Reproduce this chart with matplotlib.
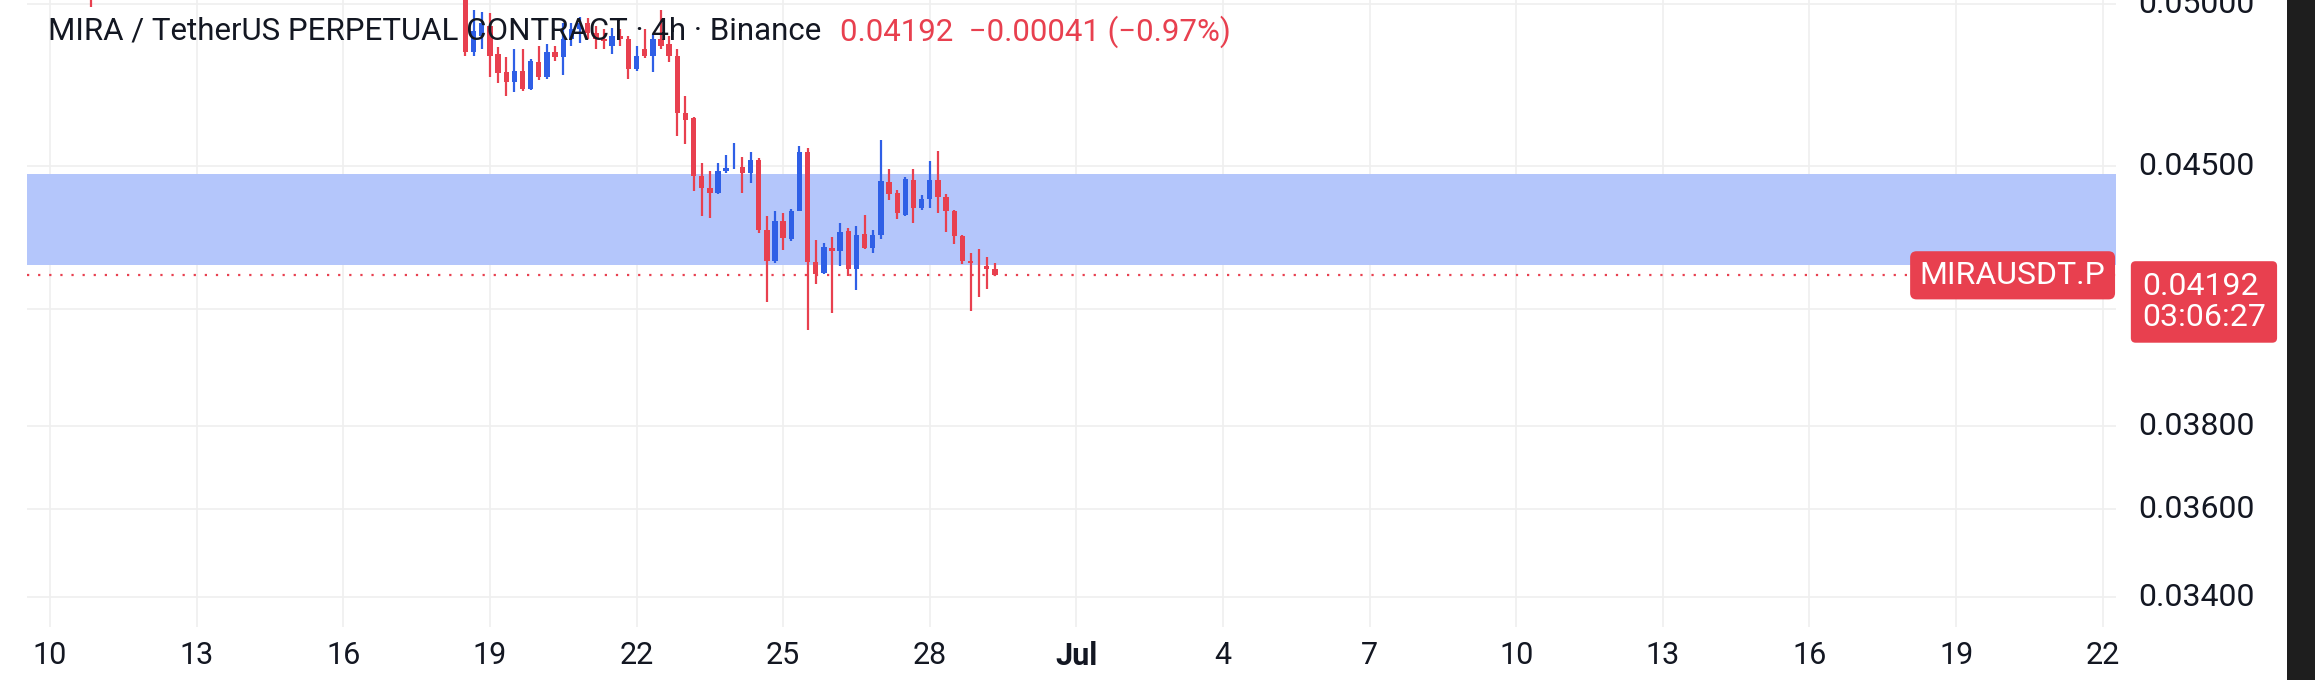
import matplotlib
matplotlib.use("Agg")
import matplotlib.pyplot as plt
from matplotlib.ticker import NullLocator

plt.rcParams['font.family'] = ['Roboto', 'DejaVu Sans']

# time in June days (July d = 30 + d), 4h candles
start_day = 18.5
opens = [0.05024,0.04846,0.04898,0.04930,0.04841,0.04784,0.04754,0.04787,0.04732,0.04817,0.04769,0.04846,0.04830,0.04888,0.04919,0.04940,0.04909,0.04888,0.04867,0.04898,0.04888,0.04794,0.04856,0.04836,0.04888,0.04872,0.04836,0.04658,0.04645,0.04471,0.04438,0.04423,0.04485,0.04500,0.04499,0.04480,0.04518,0.04318,0.04232,0.04342,0.04293,0.04372,0.04543,0.04229,0.04198,0.04268,0.04259,0.04314,0.04209,0.04307,0.04268,0.04302,0.04454,0.04423,0.04360,0.04461,0.04379,0.04404,0.04459,0.04412,0.04370,0.04300,0.04232,0.04227,0.04218,0.04209]
highs = [0.05066,0.04982,0.04974,0.04972,0.04862,0.04830,0.04856,0.04856,0.04825,0.04867,0.04872,0.04867,0.04940,0.04940,0.04959,0.04956,0.04930,0.04919,0.04924,0.04919,0.04898,0.04867,0.04919,0.04903,0.04980,0.04898,0.04856,0.04709,0.04648,0.04509,0.04487,0.04509,0.04533,0.04568,0.04528,0.04543,0.04525,0.04356,0.04372,0.04365,0.04376,0.04560,0.04553,0.04289,0.04282,0.04297,0.04337,0.04323,0.04329,0.04360,0.04316,0.04579,0.04492,0.04430,0.04468,0.04492,0.04418,0.04515,0.04546,0.04421,0.04374,0.04304,0.04253,0.04265,0.04243,0.04225]
lows = [0.04836,0.04836,0.04856,0.04769,0.04749,0.04709,0.04722,0.04726,0.04729,0.04759,0.04762,0.04820,0.04774,0.04867,0.04877,0.04888,0.04856,0.04856,0.04841,0.04867,0.04762,0.04789,0.04827,0.04784,0.04856,0.04815,0.04589,0.04567,0.04427,0.04357,0.04351,0.04419,0.04480,0.04492,0.04423,0.04450,0.04309,0.04120,0.04227,0.04262,0.04286,0.04372,0.04046,0.04169,0.04196,0.04090,0.04218,0.04191,0.04151,0.04265,0.04254,0.04293,0.04402,0.04348,0.04356,0.04337,0.04374,0.04379,0.04365,0.04311,0.04277,0.04223,0.04096,0.04133,0.04156,0.04191]
closes = [0.04846,0.04914,0.04940,0.04836,0.04782,0.04754,0.04787,0.04732,0.04820,0.04769,0.04846,0.04830,0.04888,0.04919,0.04940,0.04909,0.04888,0.04882,0.04898,0.04888,0.04794,0.04836,0.04836,0.04888,0.04867,0.04836,0.04658,0.04638,0.04471,0.04438,0.04423,0.04485,0.04494,0.04502,0.04480,0.04518,0.04318,0.04232,0.04342,0.04295,0.04372,0.04543,0.04229,0.04196,0.04271,0.04259,0.04311,0.04209,0.04304,0.04268,0.04302,0.04456,0.04421,0.04365,0.04464,0.04379,0.04404,0.04461,0.04412,0.04370,0.04300,0.04232,0.04227,0.04225,0.04209,0.04192]

# lone early candle visible at top edge
early_day = [10.83]
early_o = [0.05060]; early_h = [0.05080]; early_l = [0.04990]; early_c = [0.05050]

zone_low, zone_high = 0.04220, 0.04478
last_price = 0.04192
y_ticks = [0.034, 0.036, 0.038, 0.045, 0.050]
y_tick_labels = ["0.03400", "0.03600", "0.03800", "0.04500", "0.05000"]
y_grid_extra = [0.041]
x_ticks = [10, 13, 16, 19, 22, 25, 28, 31, 34, 37, 40, 43, 46, 49, 52]
x_tick_labels = ["10", "13", "16", "19", "22", "25", "28", "Jul", "4", "7", "10", "13", "16", "19", "22"]

RED = '#e8404f'
BLUE = '#2f5fe6'

fig = plt.figure(figsize=(23.15, 6.8), dpi=100)
fig.patch.set_facecolor('white')
ax = fig.add_axes([0.0115, 0.078, 0.9025, 0.922])
ax.set_yscale('log')
ax.set_xlim(9.52, 52.27)
ax.set_ylim(0.03335, 0.05014)

for v in y_ticks + y_grid_extra:
    ax.axhline(v, color='#efefef', lw=1.2, zorder=0)
for v in x_ticks:
    ax.axvline(v, color='#efefef', lw=1.2, zorder=0)

ax.axhspan(zone_low, zone_high, color='#b4c6fb', zorder=1, lw=0)
ax.axhline(last_price, color=RED, lw=1.6, ls=(0, (1, 4)), zorder=2)

days = list(early_day) + [start_day + i / 6 for i in range(len(opens))]
O = early_o + opens; H = early_h + highs; L = early_l + lows; C = early_c + closes
w = 0.11
for d, o, h, l, c in zip(days, O, H, L, C):
    col = BLUE if c >= o else RED
    ax.vlines(d, l, h, color=col, lw=1.6, zorder=3)
    ax.bar(d, abs(c - o) if abs(c - o) > 0.00002 else 0.00002, bottom=min(o, c),
           width=w, color=col, zorder=4, lw=0)

for s in ax.spines.values():
    s.set_visible(False)
ax.yaxis.set_major_locator(NullLocator())
ax.yaxis.set_minor_locator(NullLocator())
ax.set_xticks(x_ticks)
ax.set_xticklabels(x_tick_labels)
ax.tick_params(axis='x', length=0, labelsize=22, pad=10, colors='#131722')
for lbl in ax.get_xticklabels():
    if lbl.get_text() == 'Jul':
        lbl.set_fontweight('bold')

for v, t in zip(y_ticks, y_tick_labels):
    ax.text(1.0105, v, t, transform=ax.get_yaxis_transform(), fontsize=23,
            va='center', ha='left', color='#131722', clip_on=False)

ax.text(0.0102, 0.95, "MIRA / TetherUS PERPETUAL CONTRACT · 4h · Binance",
        transform=ax.transAxes, fontsize=22.5, color='#131722', va='center', zorder=6)
ax.text(0.3895, 0.95, "0.04192  −0.00041 (−0.97%)", transform=ax.transAxes,
        fontsize=22.5, color=RED, va='center', zorder=6)

# price labels
ax.text(0.995, last_price, "MIRAUSDT.P", transform=ax.get_yaxis_transform(),
        fontsize=23, color='white', ha='right', va='center', zorder=7,
        bbox=dict(boxstyle='round,pad=0.3,rounding_size=0.2', fc=RED, ec='none'))
ax.text(1.0125, last_price + 0.00008, "0.04192\n03:06:27", transform=ax.get_yaxis_transform(),
        fontsize=23, color='white', ha='left', va='top', zorder=7, linespacing=1.05,
        bbox=dict(boxstyle='round,pad=0.35,rounding_size=0.15', fc=RED, ec='none'),
        clip_on=False)

fig.patches.append(plt.Rectangle((0.988, 0), 0.012, 1, transform=fig.transFigure,
                                 fc='#1e1e1e', ec='none'))
fig.savefig('out.png', dpi=100)
